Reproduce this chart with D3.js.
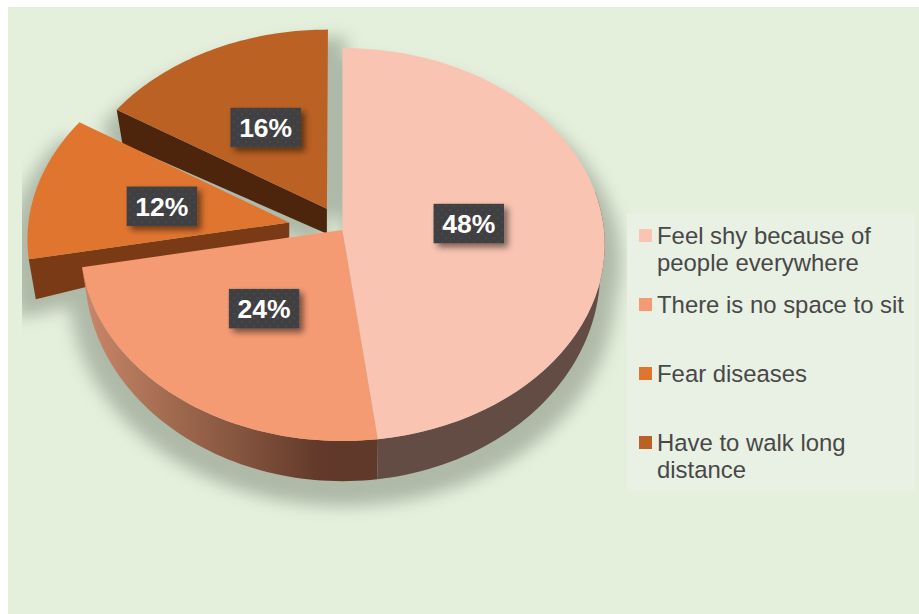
<!DOCTYPE html>
<html><head><meta charset="utf-8">
<script src="https://cdn.jsdelivr.net/npm/d3@7"></script>
<style>html,body{margin:0;padding:0;background:#fff}svg{display:block}</style>
</head><body><div id="c"></div>
<script>
const categories = ["Feel shy because of people everywhere","There is no space to sit","Fear diseases","Have to walk long distance"];
const values = [48,24,12,16];
const legendLines = [["Feel shy because of","people everywhere"],["There is no space to sit"],["Fear diseases"],["Have to walk long","distance"]];
const topColors = ["#f9c4b1","#f59b74","#e0752f","#bb6123"];
const wallColors = ["#624c44","url(#wall24)","#793a15","#4c250c"];
const explode = [0,0,0.208,0.125];
// wall depth at the slice apex and at the rim, for the two pulled-out slices
const apexDepth = [0,0,15,25];
const rimDepth = [0,0,40,34];
const labelRadius = [0.485,0.495,0.71,0.635];
const labelNudge = [-0.5,-2,2,2];

const W=919,H=614;
const svg=d3.select("#c").append("svg").attr("width",W).attr("height",H);
const defs=svg.append("defs");
const g1=defs.append("linearGradient").attr("id","wall24").attr("gradientUnits","userSpaceOnUse")
 .attr("x1",85).attr("x2",377).attr("y1",0).attr("y2",0);
[[0,"#c9866a"],[0.3,"#a06a4f"],[0.6,"#7c4e39"],[0.8,"#62392a"],[1,"#5f392a"]].forEach(s=>g1.append("stop").attr("offset",s[0]).attr("stop-color",s[1]));
const blur=defs.append("filter").attr("id","blur").attr("x","-20%").attr("y","-20%").attr("width","140%").attr("height","140%");
blur.append("feGaussianBlur").attr("stdDeviation",8);
defs.append("clipPath").attr("id","shadowClip").append("rect").attr("x",22).attr("y",0).attr("width",W).attr("height",H);
const ds=defs.append("filter").attr("id","lblShadow").attr("x","-20%").attr("y","-20%").attr("width","150%").attr("height","160%");
ds.append("feDropShadow").attr("dx",4).attr("dy",4).attr("stdDeviation",3).attr("flood-color","#000").attr("flood-opacity",0.5);
const pat=defs.append("pattern").attr("id","dots").attr("patternUnits","userSpaceOnUse").attr("width",8).attr("height",8);
pat.append("rect").attr("width",8).attr("height",8).attr("fill","#3f4042");
pat.append("circle").attr("cx",2).attr("cy",2).attr("r",1.3).attr("fill","#47484a");
pat.append("circle").attr("cx",6).attr("cy",6).attr("r",1.3).attr("fill","#47484a");

svg.append("rect").attr("x",8).attr("y",7).attr("width",W-8).attr("height",H-7).attr("fill","#e4efdc");

const pieLayout=d3.pie().sort(null).value(d=>d);
const arcs=pieLayout(values);
const cx=342.5,k=0.0738;
const topP=(u,v)=>[cx+261.5*u/(1+k*v),230-195.4*v/(1+k*v)];
const botP=(u,v)=>[cx+257*u/(1+k*v),255.5-209*v/(1+k*v)];
const line=d3.line();
const offset=(a,i)=>{const m=(a.startAngle+a.endAngle)/2;return [explode[i]*Math.sin(m),explode[i]*Math.cos(m)];};
const rim=(a,i,proj)=>{const [du,dv]=offset(a,i);
  return d3.range(0,61).map(t=>{const th=a.startAngle+(a.endAngle-a.startAngle)*t/60;return proj(Math.sin(th)+du,Math.cos(th)+dv);});};
const apex=(a,i,proj)=>{const [du,dv]=offset(a,i);return proj(du,dv);};
const topFace=(a,i)=>line([apex(a,i,topP),...rim(a,i,topP)])+"Z";

// pulled-out slice: the wall along the slice's start edge
const edgeWall=(a,i)=>{
  const [du,dv]=offset(a,i);
  const A=topP(du,dv);
  const s=a.startAngle;
  const C=topP(Math.sin(s)+du,Math.cos(s)+dv);
  const inward=(A[0]-C[0])*0.027;
  return line([A,C,[C[0]+inward,C[1]+rimDepth[i]],[A[0],A[1]+apexDepth[i]]])+"Z";
};
// main pie: the wall along the front rim
const rimWall=(a,i)=>{
  const th0=Math.max(a.startAngle,Math.PI/2-0.2);
  const pts=d3.range(0,61).map(t=>th0+(a.endAngle-th0)*t/60);
  const t=pts.map(th=>topP(Math.sin(th),Math.cos(th)));
  const b=pts.map(th=>botP(Math.sin(th),Math.cos(th))).reverse();
  return line([...t,...b])+"Z";
};

// shadow: a blurred, wider copy of the whole silhouette, dropped downward
const shadow=svg.append("g").attr("clip-path","url(#shadowClip)").append("g").attr("filter","url(#blur)").attr("fill","#aeb9a7")
  .attr("transform","translate(343,268) scale(1.06,1.03) translate(-343,-250)");
arcs.forEach((a,i)=>{
  shadow.append("path").attr("d",topFace(a,i));
  if(i<2) shadow.append("path").attr("d",rimWall(a,i));
  else shadow.append("path").attr("d",edgeWall(a,i));
});
// the long-distance slice also throws its shadow across the gap to its right
shadow.append("path").attr("d",topFace(arcs[3],3)).attr("transform","translate(18,-4)");

// draw back to front
[3,2].forEach(i=>{
  const a=arcs[i];
  svg.append("path").attr("d",edgeWall(a,i)).attr("fill",wallColors[i]);
  svg.append("path").attr("d",topFace(a,i)).attr("fill",topColors[i]);
});
[1,0].forEach(i=>svg.append("path").attr("d",rimWall(arcs[i],i)).attr("fill",wallColors[i]));
[1,0].forEach(i=>svg.append("path").attr("d",topFace(arcs[i],i)).attr("fill",topColors[i]));

// data labels
const bw=70.5,bh=39.5;
arcs.forEach((a,i)=>{
  const m=(a.startAngle+a.endAngle)/2;
  const r=labelRadius[i];
  const [x,y]=topP(r*Math.sin(m),r*Math.cos(m));
  const yy=y+labelNudge[i];
  svg.append("rect").attr("x",x-bw/2).attr("y",yy-bh/2).attr("width",bw).attr("height",bh)
    .attr("fill","url(#dots)").attr("filter","url(#lblShadow)");
  svg.append("text").attr("x",x).attr("y",yy+9.5).attr("text-anchor","middle")
    .attr("font-family","'Liberation Sans',Arial,sans-serif").attr("font-weight","bold").attr("font-size",26.5)
    .attr("fill","#fff").text(values[i]+"%");
});

// legend
svg.append("rect").attr("x",627).attr("y",213).attr("width",288).attr("height",278).attr("fill","#e9f1e4");
const legendY=d3.scalePoint().domain(categories).range([229,436]);
categories.forEach((c,i)=>{
  const y=legendY(c);
  svg.append("rect").attr("x",639).attr("y",y).attr("width",13).attr("height",13).attr("fill",topColors[i]);
  const t=svg.append("text").attr("font-family","'Liberation Sans',Arial,sans-serif").attr("font-size",23.9).attr("fill","#484848");
  legendLines[i].forEach((l,j)=>t.append("tspan").attr("x",657).attr("y",y+14.5+j*27.7).text(l));
});
</script></body></html>
